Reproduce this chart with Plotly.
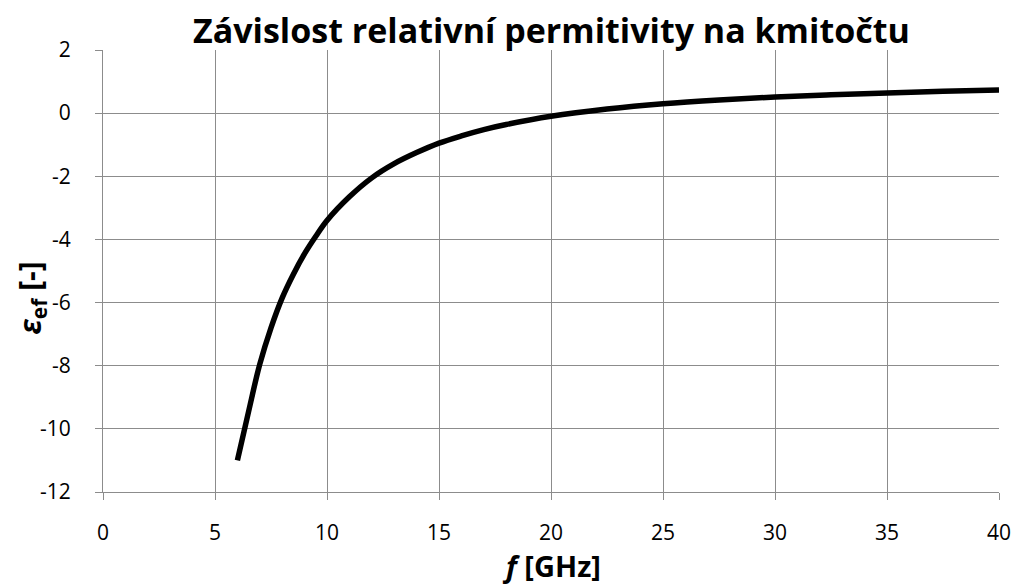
import plotly.graph_objects as go

freq_ghz = [6, 6.5, 7, 7.5, 8, 8.5, 9, 9.5, 10, 11, 12, 13, 14, 15, 16, 17, 18, 20,
            22.5, 25, 27.5, 30, 32.5, 35, 37.5, 40]
eps_ef = [-11.0, -9.45, -7.95, -6.8, -5.85, -5.1, -4.45, -3.9, -3.4, -2.65, -2.05, -1.6,
          -1.25, -0.95, -0.72, -0.52, -0.36, -0.1, 0.13, 0.3, 0.42, 0.51, 0.58, 0.64, 0.69, 0.73]

x_ticks = [0, 5, 10, 15, 20, 25, 30, 35, 40]
y_ticks = [-12, -10, -8, -6, -4, -2, 0, 2]
y_ticktext = ["-12", "-10", "-8", "-6", "-4", "-2", "0", "2"]

title_text = "Závislost relativní permitivity na kmitočtu"
x_title = "<i>f</i> [GHz]"
y_title = "<i>ε</i><sub>ef</sub> [-]"

FONT = "Open Sans, Lato, sans-serif"

W, H = 1023, 588
L, R, T, B = 103, 17, 50, 96
PW, PH = W - L - R, H - T - B


def px_x(p):
    return (p - L) / PW


def px_y(p):
    return (H - B - p) / PH


fig = go.Figure()
fig.add_trace(go.Scatter(
    x=freq_ghz, y=eps_ef, mode="lines",
    line=dict(color="black", width=5.5, shape="spline", smoothing=1.0),
    showlegend=False, hoverinfo="skip",
))

axis_common = dict(
    showgrid=True, gridcolor="#8c8c8c", gridwidth=1,
    showline=True, linecolor="#8c8c8c", linewidth=1,
    ticks="outside", ticklen=7, tickcolor="#8c8c8c", tickwidth=1,
    zeroline=False, tickfont=dict(family=FONT, size=21, color="black"),
)

fig.update_layout(
    width=W, height=H,
    margin=dict(l=L, r=R, t=T, b=B),
    paper_bgcolor="white", plot_bgcolor="white",
    annotations=[
        dict(text="<b>" + title_text + "</b>", xref="paper", yref="paper",
             x=0.5, y=px_y(30), yanchor="middle", showarrow=False,
             font=dict(family=FONT, size=34, color="black")),
        dict(text="<b>" + x_title + "</b>", xref="paper", yref="paper",
             x=0.5, y=px_y(565), yanchor="middle", showarrow=False,
             font=dict(family=FONT, size=29, color="black")),
        dict(text="<b>" + y_title + "</b>", xref="paper", yref="paper",
             x=px_x(30), y=px_y(298), xanchor="center", yanchor="middle",
             textangle=-90, showarrow=False,
             font=dict(family=FONT, size=30, color="black")),
    ],
    xaxis=dict(range=[0, 40], tickvals=x_ticks, ticklabelstandoff=15, **axis_common),
    yaxis=dict(range=[-12, 2], tickvals=y_ticks, ticktext=y_ticktext,
               ticklabelstandoff=20, **axis_common),
)

fig.write_html("out.html")
